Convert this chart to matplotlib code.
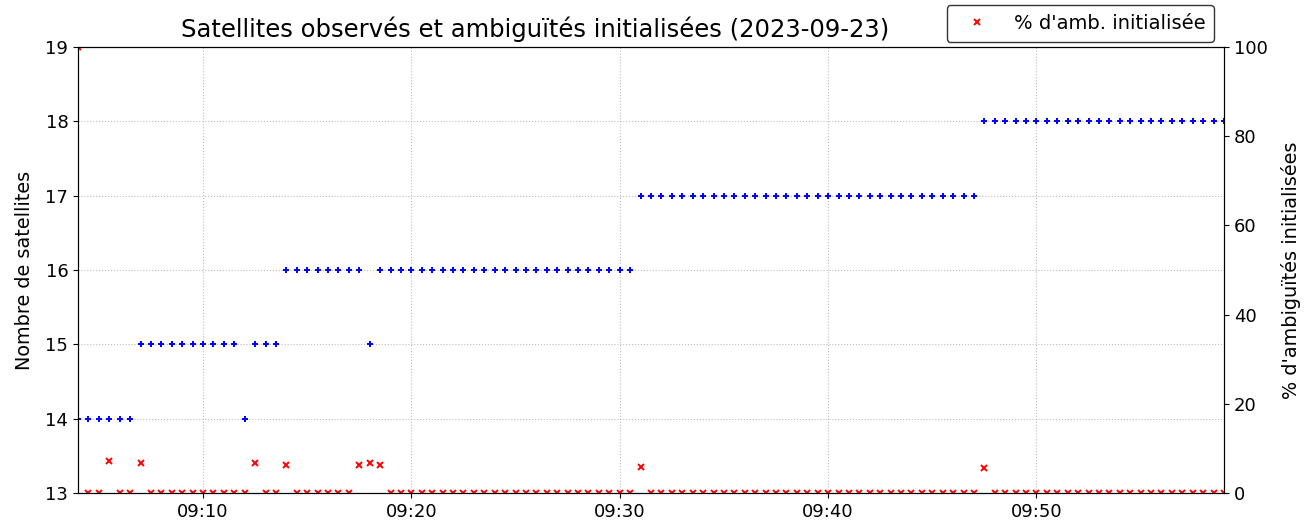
import matplotlib

matplotlib.use("Agg")
import matplotlib.dates as mdates
import matplotlib.pyplot as plt
import pandas as pd

# Epochs: one sample every 30 s starting at 09:04:00.
START = "2023-09-23 09:04:00"
STEP = "30s"

n_sats = [
    14, 14, 14, 14, 14, 14,
    15, 15, 15, 15, 15, 15, 15, 15, 15, 15,
    14,
    15, 15, 15,
    16, 16, 16, 16, 16, 16, 16, 16,
    15,
    16, 16, 16, 16, 16, 16, 16, 16, 16, 16, 16, 16, 16,
    16, 16, 16, 16, 16, 16, 16, 16, 16, 16, 16, 16,
    17, 17, 17, 17, 17, 17, 17, 17, 17, 17, 17, 17, 17, 17, 17, 17, 17,
    17, 17, 17, 17, 17, 17, 17, 17, 17, 17, 17, 17, 17, 17, 17, 17,
    18, 18, 18, 18, 18, 18, 18, 18, 18, 18, 18, 18,
    18, 18, 18, 18, 18, 18, 18, 18, 18, 18, 18, 18,
]

# Percentage of initialised ambiguities per epoch (red x).
pct_amb = [
    100.0, 0, 0, 7.1, 0, 0,
    6.7, 0, 0, 0, 0, 0, 0, 0, 0, 0,
    0,
    6.7, 0, 0,
    6.3, 0, 0, 0, 0, 0, 0, 6.3,
    6.7,
    6.3, 0, 0, 0, 0, 0, 0, 0, 0, 0, 0, 0, 0,
    0, 0, 0, 0, 0, 0, 0, 0, 0, 0, 0, 0,
    5.9, 0, 0, 0, 0, 0, 0, 0, 0, 0, 0, 0, 0, 0, 0, 0, 0,
    0, 0, 0, 0, 0, 0, 0, 0, 0, 0, 0, 0, 0, 0, 0, 0,
    5.6, 0, 0, 0, 0, 0, 0, 0, 0, 0, 0, 0,
    0, 0, 0, 0, 0, 0, 0, 0, 0, 0, 0, 0,
]

times = pd.date_range(START, periods=len(n_sats), freq=STEP)

plt.rcParams["font.family"] = "DejaVu Sans"
fig = plt.figure(figsize=(13.11, 5.27), dpi=100)
ax = fig.add_axes([78 / 1311, 1 - 493 / 527, 1146 / 1311, 446 / 527])
ax2 = ax.twinx()

ax.plot(times, n_sats, "+", color="blue", markersize=5, markeredgewidth=1.4, label="Satellites")
ax2.plot(times, pct_amb, "x", color="red", markersize=4.5, markeredgewidth=1.4, label="% d'amb. initialisée")

ax.set_xlim(times[0], times[-1])
ax.set_ylim(13, 19)
ax2.set_ylim(0, 100)
ax.set_yticks(range(13, 20))
ax2.set_yticks(range(0, 101, 20))

ax.xaxis.set_major_locator(mdates.MinuteLocator(byminute=range(0, 60, 10)))
ax.xaxis.set_major_formatter(mdates.DateFormatter("%H:%M"))
ax.grid(True, linestyle=":", color="#bdbdbd", linewidth=0.8)

ax.tick_params(labelsize=13)
ax2.tick_params(labelsize=13)
ax.set_ylabel("Nombre de satellites", fontsize=13.9, labelpad=8)
ax2.set_ylabel("% d'ambiguïtés initialisées", fontsize=13.9, labelpad=10)
fig.text(535 / 1311, 1 - 29 / 527, "Satellites observés et ambiguïtés initialisées (2023-09-23)",
         fontsize=17.5, ha="center", va="center")

ax2.legend(
    loc="upper right",
    bbox_to_anchor=(1214 / 1311, 1 - 5 / 527),
    bbox_transform=fig.transFigure,
    borderaxespad=0,
    fontsize=14,
    borderpad=0.45,
    handlelength=2.2,
    edgecolor="#333333",
    framealpha=1,
)

fig.savefig("out.png", dpi=100)
plt.close(fig)
